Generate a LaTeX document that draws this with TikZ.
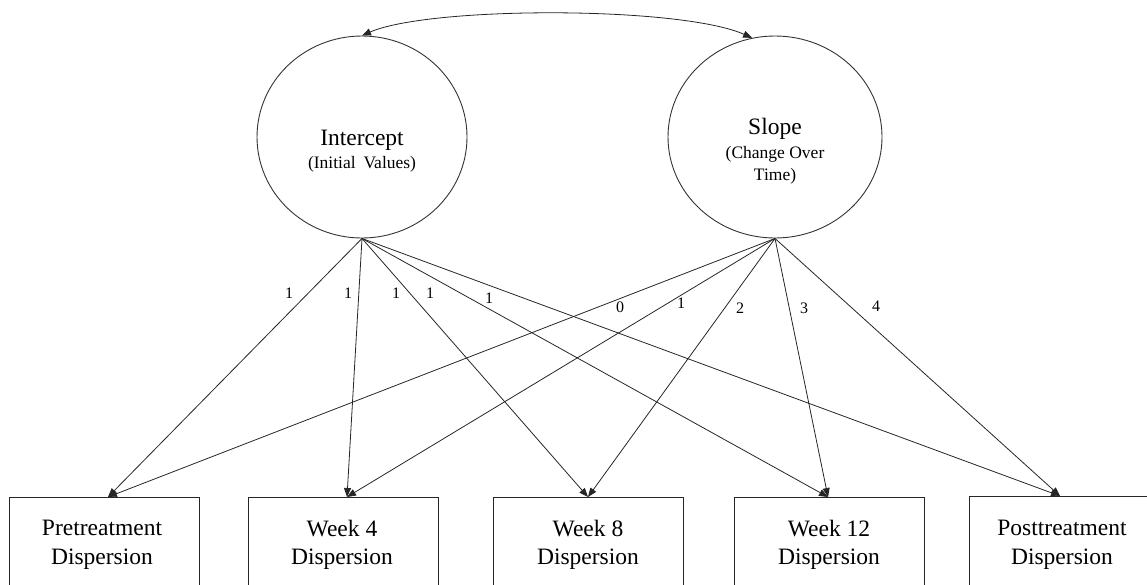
\documentclass[tikz,border=0pt]{standalone}
\usepackage{fontspec}
\setmainfont{Liberation Serif}
\usetikzlibrary{arrows.meta,shapes.geometric}
\begin{document}
\begin{tikzpicture}[x=1pt,y=-1pt,
  latent/.style={draw=black!80, line width=0.9pt, ellipse, minimum width=210pt, minimum height=202pt, inner sep=0pt},
  obs/.style={draw=black!85, line width=0.9pt, rectangle, minimum width=190pt, minimum height=120pt, anchor=north, inner sep=0pt},
  bigtxt/.style={font=\fontsize{23.5}{28.5}\selectfont, align=center, inner sep=0pt},
  subtxt/.style={font=\fontsize{17.5}{22}\selectfont, align=center, inner sep=0pt},
  lbl/.style={font=\fontsize{16}{18}\selectfont, inner sep=0pt},
  conn/.style={draw=black!85, line width=0.8pt, -{Triangle[length=9pt,width=7pt]}},
  dconn/.style={draw=black!85, line width=0.8pt, {Triangle[length=9pt,width=7pt]}-{Triangle[length=9pt,width=7pt]}}
]
\useasboundingbox (0,0) rectangle (1147,584);
\clip (0,0) rectangle (1147,584);

% latent variables
\node[latent] (int) at (362,137) {};
\node[latent, minimum width=214pt] (slo) at (775,137) {};
\node[bigtxt] (intT) at (362,140) {Intercept};
\node[subtxt] (intS) at (362,164) {(Initial\hspace{0.45em}Values)};
\node[bigtxt] (sloT) at (775,129) {Slope};
\node[subtxt] (sloS) at (775,165) {(Change Over\\Time)};

% observed variables
\node[obs] (pre) at (104,497) {};
\node[obs] (w4) at (343,497) {};
\node[obs] (w8) at (588.5,497) {};
\node[obs] (w12) at (829.5,497) {};
\node[obs, minimum width=230pt] (post) at (1084,496) {};
\node[bigtxt] (preT) at (102,545) {Pretreatment\\Dispersion};
\node[bigtxt] (w4T) at (342,545) {Week 4\\Dispersion};
\node[bigtxt] (w8T) at (588,545) {Week 8\\Dispersion};
\node[bigtxt] (w12T) at (829,545) {Week 12\\Dispersion};
\node[bigtxt] (postT) at (1062,545) {Posttreatment\\Dispersion};

% arrow tips
\coordinate (preA) at (108,497);
\coordinate (w4A) at (347,497);
\coordinate (w8A) at (588,497);
\coordinate (w12A) at (828,497);
\coordinate (postA) at (1060,496);

% intercept loadings
\draw[conn] (int.south) -- (preA);
\draw[conn] (int.south) -- (w4A);
\draw[conn] (int.south) -- (w8A);
\draw[conn] (int.south) -- (w12A);
\draw[conn] (int.south) -- (postA);
% slope loadings
\draw[conn] (slo.south) -- (preA);
\draw[conn] (slo.south) -- (w4A);
\draw[conn] (slo.south) -- (w8A);
\draw[conn] (slo.south) -- (w12A);
\draw[conn] (slo.south) -- (postA);

% covariance
\draw[dconn] (slo.103) .. controls (680,6) and (430,6) .. (int.north);

% labels
\node[lbl] (l1) at (289,293) {1};
\node[lbl] (l2) at (348,293) {1};
\node[lbl] (l3) at (396,293) {1};
\node[lbl] (l4) at (430,293) {1};
\node[lbl] (l5) at (489,298) {1};
\node[lbl] (s0) at (620,307) {0};
\node[lbl] (s1) at (681,303) {1};
\node[lbl] (s2) at (740,308) {2};
\node[lbl] (s3) at (804,308) {3};
\node[lbl] (s4) at (876,306) {4};
\end{tikzpicture}
\end{document}
